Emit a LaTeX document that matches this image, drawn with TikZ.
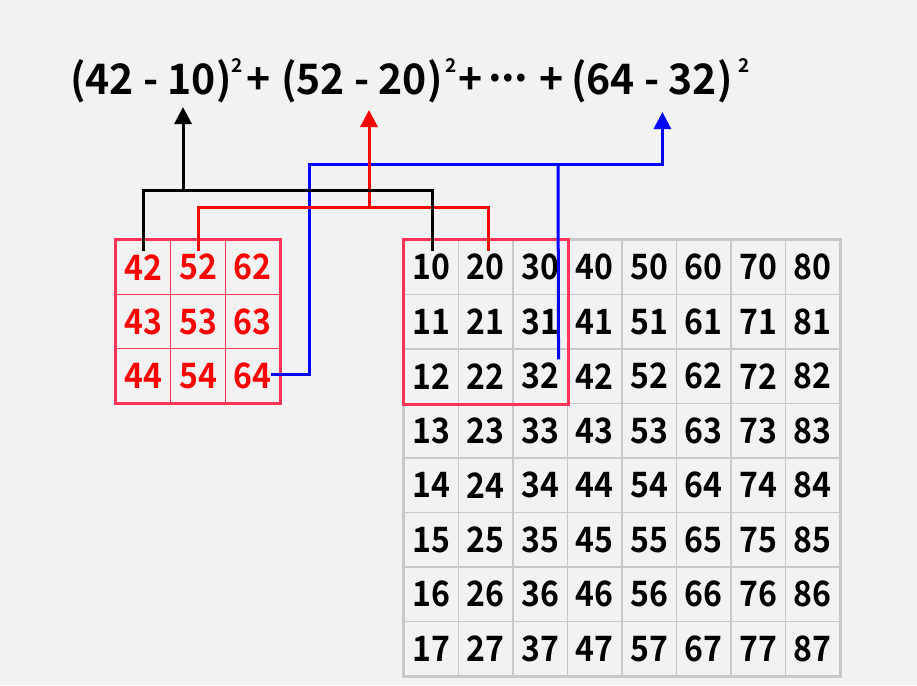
\documentclass[tikz,border=0pt]{standalone}
\usepackage{fontspec}
\setmainfont{Noto Sans CJK KR}[BoldFont={Noto Sans CJK KR Bold}]
\usetikzlibrary{arrows.meta,calc}
\definecolor{bg}{HTML}{F2F2F2}
\definecolor{gridgray}{HTML}{C8C8C8}
\definecolor{boxred}{HTML}{FF3358}
\definecolor{txtred}{HTML}{FF0000}
\definecolor{lnblue}{HTML}{0000FF}
\newcommand{\celltxt}[1]{\raisebox{-2.5pt}{\scalebox{0.97}[1.06]{#1}}}
\newcommand{\ftxt}[1]{\scalebox{0.975}[1.0]{#1}}
\tikzset{
  bigcell/.style={draw=gridgray, line width=1.5pt, minimum width=54.5pt, minimum height=54.5pt, inner sep=0pt,
    font=\fontsize{33}{33}\selectfont\bfseries, text=black},
  smallcell/.style={draw=boxred, line width=1.5pt, minimum width=54.67pt, minimum height=54.33pt, inner sep=0pt,
    font=\fontsize{33}{33}\selectfont\bfseries, text=txtred},
  fmain/.style={anchor=base west, inner sep=0pt, font=\fontsize{42}{42}\selectfont\bfseries},
  fsup/.style={anchor=base west, inner sep=0pt, font=\fontsize{19}{19}\selectfont\bfseries},
  conn/.style={line width=3pt},
  tipped/.style={-{Triangle[width=17pt,length=17pt]}}
}
\begin{document}
\begin{tikzpicture}[x=1pt,y=-1pt]
\fill[bg] (0,0) rectangle (917,685);
\useasboundingbox (0,0) rectangle (917,685);
% big grid
\foreach \c in {0,...,7}{
  \foreach \r in {0,...,7}{
    \pgfmathtruncatemacro\v{10*(\c+1)+\r}
    \node[bigcell] (b-\c-\r) at ({404+54.5*(\c+0.5)},{240+54.5*(\r+0.5)}) {\celltxt{\v}};
  }
}
\draw[gridgray, line width=2.5pt] (b-0-0.north west) rectangle (b-7-7.south east);
\draw[boxred, line width=2.5pt] (b-0-0.north west) rectangle (b-2-2.south east);
% small grid
\foreach \c in {0,1,2}{
  \foreach \r in {0,1,2}{
    \pgfmathtruncatemacro\v{10*(\c+4)+\r+2}
    \node[smallcell] (s-\c-\r) at ({116+54.67*(\c+0.5)},{240+54.33*(\r+0.5)}) {\celltxt{\v}};
  }
}
\draw[boxred, line width=2.5pt] (s-0-0.north west) rectangle (s-2-2.south east);
% formula
\node[fmain] (f1) at (70,94) {\ftxt{(42 - 10)}};
\node[fsup] (f2) at (231,72) {2};
\node[fmain] (f3) at (246,94) {\ftxt{+}};
\node[fmain] (f4) at (281,94) {\ftxt{(52 - 20)}};
\node[fsup] (f5) at (445,72) {2};
\node[fmain] (f6) at (458,94) {\ftxt{+}};
\node[fmain] (f7) at (488,94) {\raisebox{12.5pt}{.\kern-0.5pt.\kern-0.5pt.}};
\node[fmain] (f8) at (539.5,94) {\ftxt{+}};
\node[fmain] (f9) at (571,94) {\ftxt{(64 - 32)}};
\node[fsup] (f10) at (738,72) {2};
% coordinates
\coordinate (kjoin) at (183,190);
\coordinate (ktip) at (183,107);
\coordinate (rjoin) at (369,207.7);
\coordinate (rtip) at (369,110);
\coordinate (bcorner) at (309,164.3);
\coordinate (bjoin) at (558,164.3);
\coordinate (btip) at (662.4,112);
% blue
\draw[conn, lnblue, tipped] ([xshift=18pt,yshift=1.5pt]s-2-2.center) -| (bcorner) -| (btip);
\draw[conn, lnblue] ([xshift=18.3pt,yshift=17pt]b-2-2.center) -- (bjoin);
% red
\draw[conn, red] ([yshift=-12pt]s-1-0.north) |- (rjoin) -| ([xshift=2.5pt,yshift=-12pt]b-1-0.north);
\draw[conn, red, tipped] (rjoin) -- (rtip);
% black
\draw[conn, black] ([yshift=-12pt]s-0-0.north) |- (kjoin) -| ([xshift=1.5pt,yshift=-12pt]b-0-0.north);
\draw[conn, black, tipped] (kjoin) -- (ktip);
\end{tikzpicture}
\end{document}
